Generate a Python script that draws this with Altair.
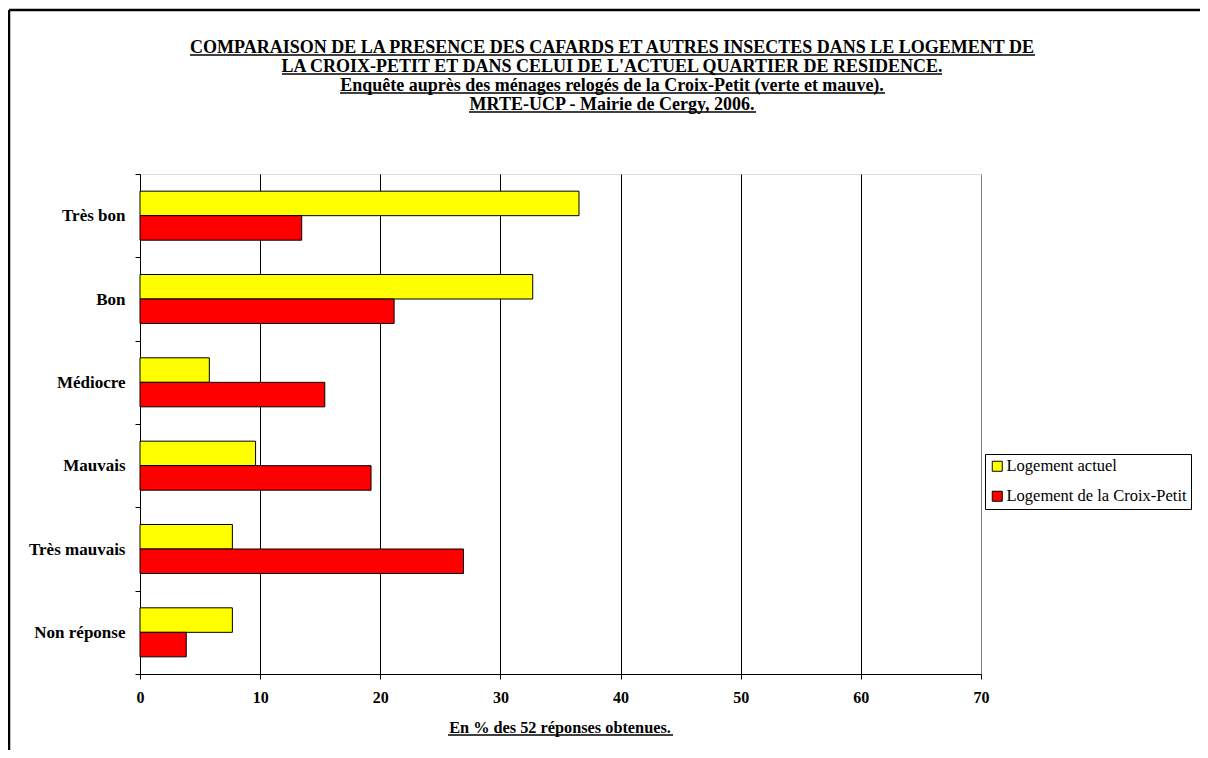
import altair as alt
import pandas as pd

CATEGORIES = ["Très bon", "Bon", "Médiocre", "Mauvais", "Très mauvais", "Non réponse"]
SERIES = ["Logement actuel", "Logement de la Croix-Petit"]
ACTUEL = [36.54, 32.69, 5.77, 9.62, 7.69, 7.69]
CROIX_PETIT = [13.46, 21.15, 15.38, 19.23, 26.92, 3.85]
COLORS = ["#FFFF00", "#FF0000"]
X_TICKS = [0, 10, 20, 30, 40, 50, 60, 70]
TITLE_LINES = [
    "COMPARAISON DE LA PRESENCE DES CAFARDS ET AUTRES INSECTES DANS LE LOGEMENT DE",
    "LA CROIX-PETIT ET DANS CELUI DE L'ACTUEL QUARTIER DE RESIDENCE.",
    "Enquête auprès des ménages relogés de la Croix-Petit (verte et mauve).",
    "MRTE-UCP - Mairie de Cergy, 2006.",
]
X_TITLE = "En % des 52 réponses obtenues."

rows = []
for c, a, b in zip(CATEGORIES, ACTUEL, CROIX_PETIT):
    rows.append({"cat": c, "serie": SERIES[0], "val": a})
    rows.append({"cat": c, "serie": SERIES[1], "val": b})
df = pd.DataFrame(rows)

SERIF = "Liberation Serif"
W, H = 841, 500
OX, OY = 140, 174  # plot origin on page

bars = alt.Chart(df).mark_bar(stroke="black", strokeWidth=1).encode(
    x=alt.X("val:Q", scale=alt.Scale(domain=[0, 70], nice=False),
            axis=alt.Axis(values=X_TICKS, title=None, grid=True, labelFlush=False,
                          gridColor={"condition": {"test": "datum.value == 70", "value": "#808080"}, "value": "black"},
                          gridWidth=1, domainColor="black", tickColor="black",
                          tickSize=5, labelFont=SERIF, labelFontWeight="bold",
                          labelFontSize=16, labelColor="black", labelPadding=10)),
    y=alt.Y("cat:N", sort=CATEGORIES,
            scale=alt.Scale(paddingInner=0, paddingOuter=0),
            axis=alt.Axis(title=None, tickBand="extent", domainColor="black",
                          tickColor="black", tickSize=5, labelFont=SERIF,
                          labelFontWeight="bold", labelFontSize=17,
                          labelColor="black", labelPadding=10)),
    yOffset=alt.YOffset("serie:N", sort=SERIES,
                        scale=alt.Scale(paddingInner=0, paddingOuter=0.7)),
    fill=alt.Fill("serie:N", sort=SERIES,
                  scale=alt.Scale(domain=SERIES, range=COLORS),
                  legend=alt.Legend(orient="none", legendX=845, legendY=280,
                                    title=None, strokeColor="black",
                                    fillColor="white", padding=4,
                                    symbolType="square", symbolSize=100,
                                    symbolStrokeColor="black",
                                    symbolStrokeWidth=1, labelFont=SERIF,
                                    labelFontSize=16.5, labelColor="black",
                                    labelLimit=400,
                                    labelOffset=1, rowPadding=13)),
)

one = alt.Data(values=[{}])

layers = [bars]

# outer frame (top and left edges; right and bottom run off the page)
layers.append(alt.Chart(one).mark_rule(color="black", strokeWidth=2.5, clip=False).encode(
    x=alt.value(9 - OX), x2=alt.value(1400), y=alt.value(10 - OY)))
layers.append(alt.Chart(one).mark_rule(color="black", strokeWidth=2.5, clip=False).encode(
    x=alt.value(9 - OX), y=alt.value(10 - OY), y2=alt.value(800)))

title_baselines = [53, 72, 91, 110]
title_extents = [(190, 1035), (282, 942), (340, 885), (469, 756)]
for line, yb, (x0, x1) in zip(TITLE_LINES, title_baselines, title_extents):
    layers.append(alt.Chart(one).mark_text(font=SERIF, fontWeight="bold", fontSize=18,
                                           align="center", baseline="alphabetic",
                                           color="black", clip=False).encode(
        x=alt.value(612 - OX), y=alt.value(yb - OY), text=alt.value(line)))
    layers.append(alt.Chart(one).mark_rule(color="black", strokeWidth=1.5, clip=False).encode(
        x=alt.value(x0 - OX), x2=alt.value(x1 - OX), y=alt.value(yb + 2 - OY)))

layers.append(alt.Chart(one).mark_text(font=SERIF, fontWeight="bold", fontSize=16.3,
                                       align="center", baseline="alphabetic",
                                       color="black", clip=False).encode(
    x=alt.value(560 - OX), y=alt.value(733 - OY), text=alt.value(X_TITLE)))
layers.append(alt.Chart(one).mark_rule(color="black", strokeWidth=1.5, clip=False).encode(
    x=alt.value(448 - OX), x2=alt.value(673 - OX), y=alt.value(735 - OY)))

chart = alt.layer(*layers).properties(
    width=W, height=H,
    autosize=alt.AutoSizeParams(type="none"),
    padding={"left": OX - 8, "top": OY - 8, "right": 1192 - (OX - 8) - W, "bottom": 742 - (OY - 8) - H},
).configure_view(stroke="#808080", strokeWidth=1.5).configure(background="white")

chart.save("out.html", embed_options={"renderer": "svg", "actions": False})
